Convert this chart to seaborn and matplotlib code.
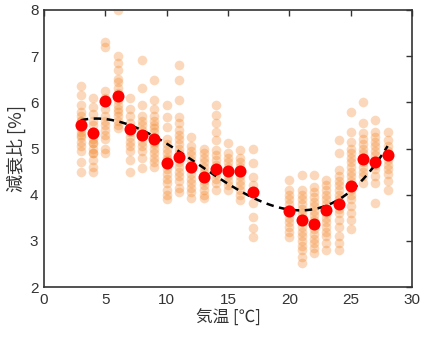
import numpy as np
import pandas as pd
import matplotlib
matplotlib.use("Agg")
import matplotlib.pyplot as plt
import seaborn as sns

# ---- data ----
temps = [3, 4, 5, 6, 7, 8, 9, 10, 11, 12, 13, 14, 15, 16, 17, 20, 21, 22, 23, 24, 25, 26, 27, 28]
means = [5.51, 5.33, 6.02, 6.14, 5.42, 5.29, 5.20, 4.69, 4.82, 4.60, 4.39, 4.56, 4.52, 4.52, 4.06,
         3.64, 3.46, 3.37, 3.66, 3.80, 4.18, 4.77, 4.70, 4.85]

obs_t3 = [6.35, 6.15, 5.95, 5.8, 5.7, 5.6, 5.6, 5.5, 5.45, 5.35, 5.3, 5.25, 5.15, 5.05, 4.95, 4.7, 4.5]
obs_t4 = [6.1, 5.9, 5.75, 5.6, 5.5, 5.35, 5.2, 5.12, 5.12, 5.0, 4.9, 4.9, 4.75, 4.6, 4.5]
obs_t5 = [7.3, 7.2, 6.25, 6.1, 5.85, 5.7, 5.6, 5.5, 5.4, 5.3, 5.2, 5.0, 4.9]
obs_t6 = [8.0, 7.0, 6.85, 6.7, 6.5, 6.45, 6.3, 6.2, 6.05, 5.95, 5.85, 5.8, 5.7, 5.6, 5.5, 5.45]
obs_t7 = [6.1, 5.85, 5.7, 5.55, 5.45, 5.35, 5.25, 5.15, 5.05, 4.95, 4.75, 4.5]
obs_t8 = [6.92, 6.3, 5.95, 5.7, 5.6, 5.5, 5.4, 5.3, 5.25, 5.15, 5.05, 4.95, 4.8, 4.58]
obs_t9 = [6.48, 6.05, 5.85, 5.7, 5.6, 5.5, 5.45, 5.35, 5.25, 5.15, 5.1, 5.0, 4.9, 4.8, 4.7, 4.6]
obs_t10 = [5.95, 5.68, 5.47, 5.2, 5.1, 5.0, 4.9, 4.8, 4.75, 4.65, 4.55, 4.45, 4.35, 4.25, 4.1, 4.0, 3.9]
obs_t11 = [6.8, 6.48, 6.05, 5.68, 5.55, 5.4, 5.3, 5.2, 5.1, 5.0, 4.9, 4.8, 4.7, 4.6, 4.5, 4.4, 4.3, 4.15, 4.05]
obs_t12 = [5.25, 5.05, 4.95, 4.85, 4.75, 4.65, 4.55, 4.45, 4.35, 4.25, 4.15, 4.05, 3.93]
obs_t13 = [5.0, 4.9, 4.8, 4.7, 4.6, 4.5, 4.4, 4.3, 4.2, 4.1, 4.0, 3.92]
obs_t14 = [5.94, 5.73, 5.55, 5.35, 5.18, 4.97, 4.85, 4.75, 4.65, 4.55, 4.45, 4.35, 4.25, 4.1]
obs_t15 = [5.12, 4.9, 4.8, 4.7, 4.6, 4.5, 4.4, 4.3, 4.2, 4.1]
obs_t16 = [4.97, 4.8, 4.7, 4.6, 4.5, 4.4, 4.3, 4.2, 4.1, 4.0, 3.89]
obs_t17 = [5.0, 4.68, 4.38, 4.2, 3.82, 3.52, 3.28, 3.09]
obs_t20 = [4.32, 4.1, 4.0, 3.9, 3.8, 3.7, 3.6, 3.5, 3.4, 3.3, 3.2, 3.09]
obs_t21 = [4.43, 4.1, 4.0, 3.9, 3.8, 3.7, 3.6, 3.5, 3.4, 3.3, 3.2, 3.1, 3.0, 2.9, 2.8, 2.65, 2.52]
obs_t22 = [4.43, 4.17, 4.05, 3.95, 3.85, 3.75, 3.65, 3.55, 3.45, 3.35, 3.25, 3.15, 3.05, 2.95, 2.85, 2.74]
obs_t23 = [4.32, 4.2, 4.1, 4.0, 3.9, 3.8, 3.7, 3.6, 3.5, 3.4, 3.3, 3.2, 3.1, 2.95, 2.8]
obs_t24 = [5.18, 4.9, 4.54, 4.4, 4.3, 4.2, 4.1, 4.0, 3.9, 3.8, 3.7, 3.6, 3.45, 3.3, 3.1, 2.95, 2.8]
obs_t25 = [5.8, 5.36, 5.14, 5.0, 4.9, 4.8, 4.7, 4.6, 4.5, 4.4, 4.3, 4.2, 4.1, 4.0, 3.9, 3.75, 3.6, 3.45, 3.25]
obs_t26 = [6.0, 5.55, 5.34, 5.2, 5.1, 5.0, 4.9, 4.8, 4.7, 4.6, 4.5, 4.4, 4.25]
obs_t27 = [5.62, 5.36, 5.25, 5.15, 5.05, 4.95, 4.85, 4.75, 4.65, 4.55, 4.4, 4.25, 3.82]
obs_t28 = [5.36, 5.18, 5.05, 4.95, 4.85, 4.75, 4.65, 4.55, 4.45, 4.3, 4.1]

xticks = [0, 5, 10, 15, 20, 25, 30]
yticks = [2, 3, 4, 5, 6, 7, 8]
xlabel = "気温 [℃]"
ylabel = "減衰比 [%]"

obs_lists = [obs_t3, obs_t4, obs_t5, obs_t6, obs_t7, obs_t8, obs_t9, obs_t10, obs_t11, obs_t12,
             obs_t13, obs_t14, obs_t15, obs_t16, obs_t17, obs_t20, obs_t21, obs_t22, obs_t23,
             obs_t24, obs_t25, obs_t26, obs_t27, obs_t28]
obs_df = pd.DataFrame({
    "temp": [t for t, vals in zip(temps, obs_lists) for _ in vals],
    "ratio": [v for vals in obs_lists for v in vals],
})
mean_df = pd.DataFrame({"temp": temps, "ratio": means})

# ---- drawing ----
sns.set_theme(style="white")
plt.rcParams["font.family"] = ["Liberation Sans", "Noto Sans CJK JP", "DejaVu Sans"]

fig = plt.figure(figsize=(4.21, 3.43), dpi=100)
ax = fig.add_axes([0.1045, 0.163, 0.8745, 0.808])

sns.scatterplot(data=obs_df, x="temp", y="ratio", ax=ax, color=(0.95, 0.5, 0.12),
                alpha=0.3, s=48, linewidth=0, legend=False)
sns.regplot(data=mean_df, x="temp", y="ratio", ax=ax, order=3, ci=None, scatter=False,
            line_kws=dict(color="black", lw=1.8, ls=(0, (3, 2.2))))
sns.scatterplot(data=mean_df, x="temp", y="ratio", ax=ax, color="#ff0000",
                s=75, linewidth=0, legend=False, zorder=4)

ax.set_xlim(0, 30)
ax.set_ylim(2, 8)
ax.set_xticks(xticks)
ax.set_yticks(yticks)
ax.set_xlabel(xlabel, fontsize=12, color="#333333", labelpad=2,
              family=["Noto Sans CJK JP", "DejaVu Sans"])
ax.set_ylabel(ylabel, fontsize=13, color="#333333", labelpad=3,
              family=["Noto Sans CJK JP", "DejaVu Sans"])
ax.tick_params(direction="in", length=4, width=1, colors="#333333", labelsize=11,
               top=True, right=True, labeltop=False, labelright=False, pad=4)
for sp in ax.spines.values():
    sp.set_visible(True)
    sp.set_color("#333333")
    sp.set_linewidth(1.2)

fig.savefig("out.png", dpi=100)
